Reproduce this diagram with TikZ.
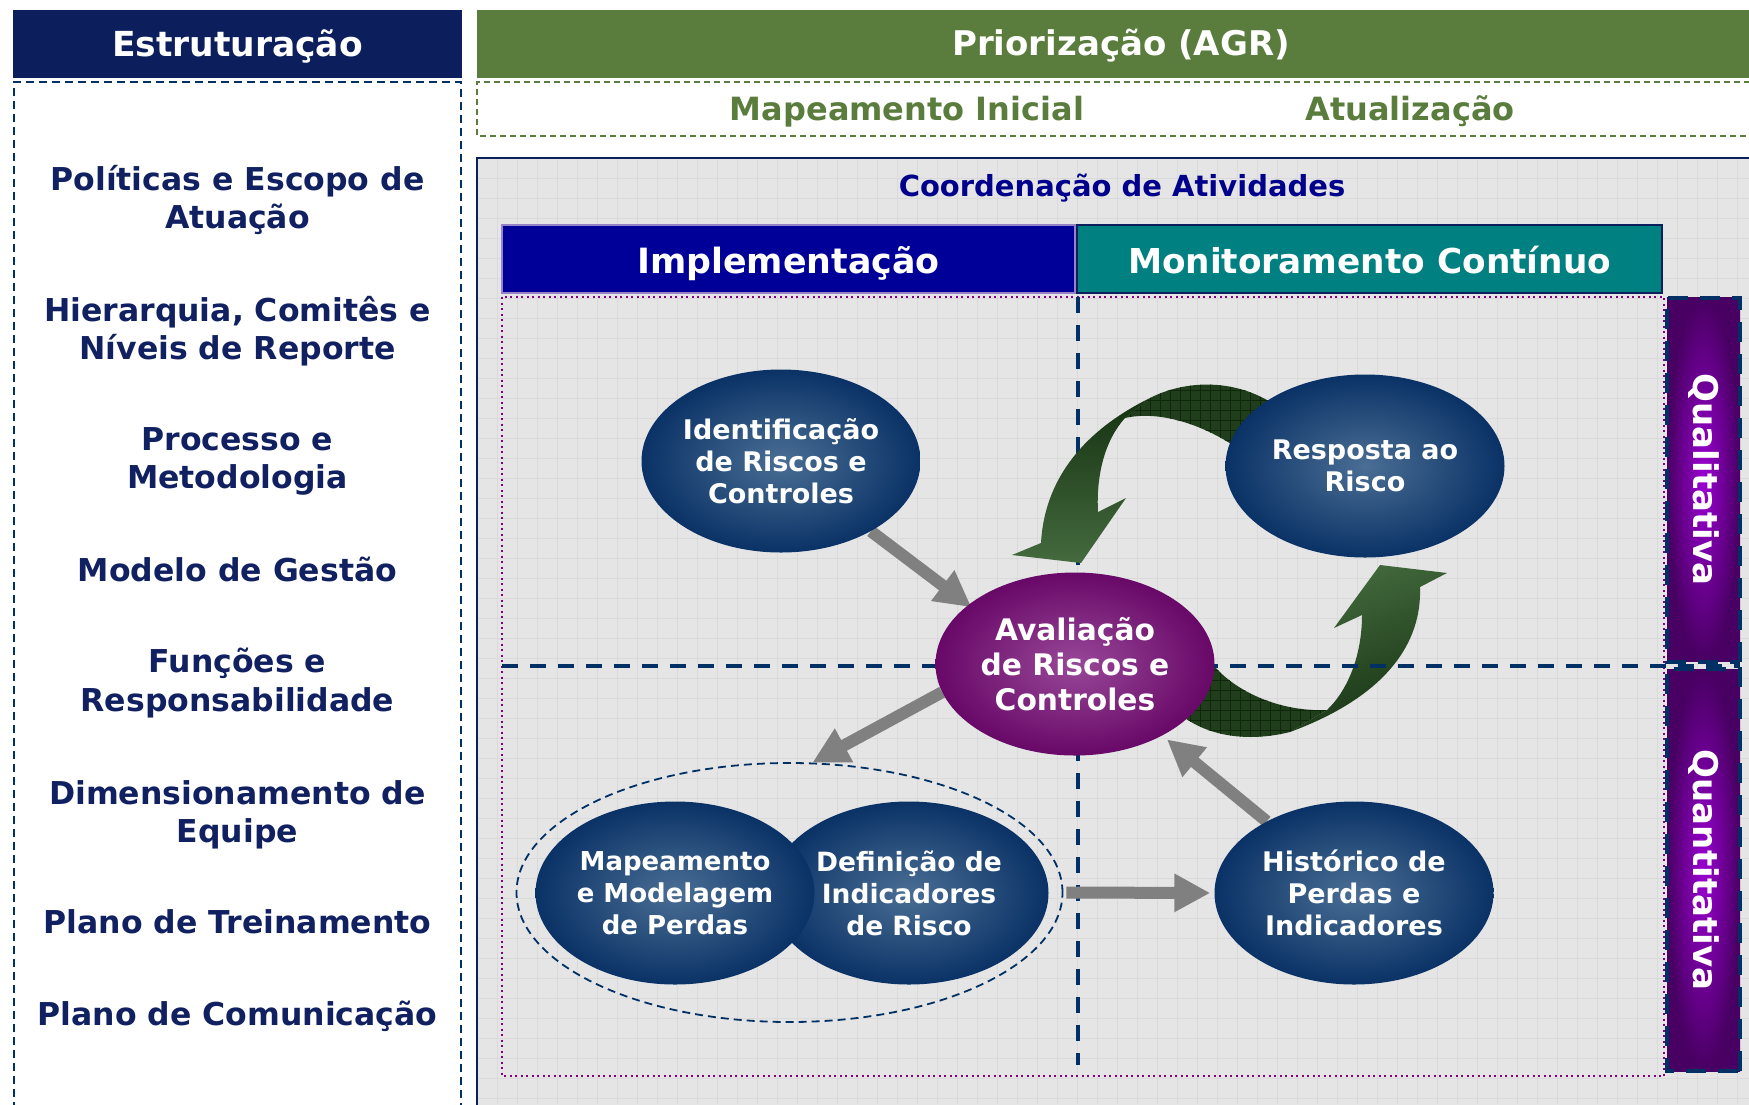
\documentclass[tikz,border=0pt]{standalone}
\usepackage{fontspec}
\setmainfont{DejaVu Sans}
\usetikzlibrary{shapes.geometric,arrows.meta}
\definecolor{navyhdr}{RGB}{12,30,92}
\definecolor{lefttext}{RGB}{16,32,96}
\definecolor{greenhdr}{RGB}{90,124,60}
\definecolor{coordtext}{RGB}{0,0,140}
\definecolor{implfill}{RGB}{0,0,153}
\definecolor{implborder}{RGB}{150,130,200}
\definecolor{monfill}{RGB}{0,128,128}
\definecolor{dashnavy}{RGB}{0,48,100}
\definecolor{dotpurple}{RGB}{128,0,128}
\definecolor{bgfill}{RGB}{229,229,229}
\definecolor{gridc}{RGB}{218,218,218}
\definecolor{ellin}{RGB}{74,110,148}
\definecolor{ellout}{RGB}{10,50,102}
\definecolor{purin}{RGB}{152,72,152}
\definecolor{purout}{RGB}{104,8,104}
\definecolor{barin}{RGB}{155,0,210}
\definecolor{barout}{RGB}{72,0,98}
\definecolor{arrgray}{RGB}{128,128,128}
\definecolor{gdark}{RGB}{22,50,18}
\definecolor{glight}{RGB}{68,106,62}
\definecolor{hatchbase}{RGB}{32,62,27}
\definecolor{hatchline}{RGB}{14,38,10}
\pgfdeclarelayer{back}
\pgfdeclarelayer{front}
\pgfsetlayers{back,main,front}
\begin{document}
\begin{tikzpicture}[x=1pt,y=-1pt,
  lefttxt/.style={anchor=base, text=lefttext, inner sep=0pt, font=\fontsize{31.5}{38}\selectfont\bfseries},
  hdrtxt/.style={anchor=base, text=white, inner sep=0pt, font=\fontsize{34}{40}\selectfont\bfseries},
  subtxt/.style={anchor=base, text=greenhdr, inner sep=0pt, font=\fontsize{32}{38}\selectfont\bfseries},
  bluenode/.style={ellipse, minimum width=279pt, minimum height=183pt, inner sep=0pt, shade, inner color=ellin, outer color=ellout, text=white, align=center, font=\fontsize{27}{32}\selectfont\bfseries},
  purplenode/.style={ellipse, minimum width=279pt, minimum height=183pt, inner sep=0pt, shade, inner color=purin, outer color=purout, text=white, align=center, font=\fontsize{29.7}{35}\selectfont\bfseries},
  barnode/.style={rectangle, minimum height=73pt, inner sep=0pt, shade, inner color=barin, outer color=barout, draw=dashnavy, line width=4pt, dash pattern=on 20pt off 12pt, text=white, font=\fontsize{34}{40}\selectfont\bfseries},
  navydash/.style={draw=dashnavy, line width=4pt, dash pattern=on 16pt off 12pt},
  grayarr/.style={draw=arrgray, line width=12pt, -{Triangle[width=36pt,length=36pt]}},
]
\useasboundingbox (0,0) rectangle (1749,1104);
\begin{pgfonlayer}{back}
\fill[white] (0,0) rectangle (1749,1104);
% left column
\fill[navyhdr] (13,10) rectangle (462,78);
\draw[dashnavy, line width=2pt, dash pattern=on 8pt off 5pt] (14,1110) -- (14,82) -- (461,82) -- (461,1110);
% green header
\fill[greenhdr] (477,10) rectangle (1760,78);
\draw[greenhdr, line width=2.5pt, dash pattern=on 6pt off 4pt] (1760,82) -- (477,82) -- (477,136) -- (1760,136);
% main grey area
\fill[bgfill] (477,158) rectangle (1760,1110);
\foreach \gx in {477,497,...,1749} \draw[gridc, line width=0.8pt] (\gx,158) -- (\gx,1104);
\foreach \gy in {158,178,...,1104} \draw[gridc, line width=0.8pt] (477,\gy) -- (1749,\gy);
\draw[navyhdr, line width=2pt] (477,1110) -- (477,158) -- (1760,158);
% column headers
\fill[implfill] (502,225) rectangle (1075,293);
\draw[implborder, line width=2pt] (502,225) rectangle (1075,293);
\fill[monfill] (1077,225) rectangle (1662,293);
\draw[navyhdr, line width=2.5pt] (1077,225) rectangle (1662,293);
% dotted frame
\draw[dotpurple, line width=2pt, dash pattern=on 2pt off 3.5pt] (502,297) rectangle (1664,1076);
% vertical dashed line
\draw[navydash] (1078,297) -- (1078,1065);
\end{pgfonlayer}

% header texts
\node[hdrtxt, font=\fontsize{34.5}{40}\selectfont\bfseries] (estr) at (237.5,56) {Estruturação};
\node[hdrtxt] (prio) at (1121,55) {Priorização (AGR)};
\node[subtxt] (mapin) at (907,120) {Mapeamento Inicial};
\node[subtxt] (atual) at (1410,120) {Atualização};
\node[anchor=base, text=coordtext, inner sep=0pt, font=\fontsize{29}{35}\selectfont\bfseries] (coord) at (1122,196) {Coordenação de Atividades};
\node[hdrtxt, font=\fontsize{34.8}{40}\selectfont\bfseries] (impl) at (788.5,273) {Implementação};
\node[hdrtxt, font=\fontsize{34.3}{40}\selectfont\bfseries] (moni) at (1369.5,273) {Monitoramento Contínuo};

% left column items
\node[lefttxt] (l1a) at (237.5,190) {Políticas e Escopo de};
\node[lefttxt] (l1b) at (237.5,228) {Atuação};
\node[lefttxt] (l2a) at (237.5,321) {Hierarquia, Comitês e};
\node[lefttxt] (l2b) at (237.5,359) {Níveis de Reporte};
\node[lefttxt] (l3a) at (237.5,450) {Processo e};
\node[lefttxt] (l3b) at (237.5,488) {Metodologia};
\node[lefttxt] (l4) at (237.5,581) {Modelo de Gestão};
\node[lefttxt] (l5a) at (237.5,672) {Funções e};
\node[lefttxt] (l5b) at (237.5,711) {Responsabilidade};
\node[lefttxt] (l6a) at (237.5,804) {Dimensionamento de};
\node[lefttxt] (l6b) at (237.5,842) {Equipe};
\node[lefttxt] (l7) at (237.5,933) {Plano de Treinamento};
\node[lefttxt] (l8) at (237.5,1025) {Plano de Comunicação};

% ellipses and bars (front)
\begin{pgfonlayer}{front}
\node[barnode, minimum width=364pt, rotate=-90] (qual) at (1703.5,479.5) {Qualitativa};
\node[barnode, minimum width=402pt, rotate=-90] (quant) at (1703.5,870) {Quantitativa};
\node[bluenode] (ident) at (781,461) {Identificação\\de Riscos e\\Controles};
\node[bluenode] (resp) at (1365,466) {Resposta ao\\Risco};
\node[purplenode] (aval) at (1075,664) {Avaliação\\de Riscos e\\Controles};
\node[bluenode, font=\fontsize{26.5}{32}\selectfont\bfseries] (defi) at (909,893) {Definição de\\Indicadores\\de Risco};
\node[bluenode, font=\fontsize{26}{32}\selectfont\bfseries] (mape) at (675,893) {Mapeamento\\e Modelagem\\de Perdas};
\node[bluenode] (hist) at (1354,893) {Histórico de\\Perdas e\\Indicadores};
\node[ellipse, draw=dashnavy, line width=1.8pt, dash pattern=on 8pt off 5pt, minimum width=546pt, minimum height=259pt, inner sep=0pt] (grp) at (789.5,892.5) {};
\end{pgfonlayer}

% green curved arrow 1 (Resposta -> Avaliacao)
\begin{scope}
\clip (1125,418) -- (1150,398) .. controls (1185,380) and (1235,378) .. (1275,405) -- (1240,450) .. controls (1205,425) and (1160,410) .. (1125,418) -- cycle;
\fill[hatchbase] (1100,370) rectangle (1290,460);
\foreach \h in {1100,1110,...,1290} \draw[hatchline, line width=0.8pt] (\h,370) -- (\h,460);
\foreach \v in {370,380,...,460} \draw[hatchline, line width=0.8pt] (1100,\v) -- (1290,\v);
\end{scope}
\shade[top color=gdark, bottom color=glight] (1150,398) .. controls (1095,425) and (1045,470) .. (1041,543) -- (1012,555) -- (1081,563) -- (1126,498) -- (1098,512) .. controls (1096,475) and (1105,440) .. (1125,418) -- cycle;

% green curved arrow 2 (Avaliacao -> Resposta)
\begin{scope}
\clip (1190,650) -- (1215,667) .. controls (1240,695) and (1285,712) .. (1327,710) -- (1290,732) .. controls (1250,742) and (1205,738) .. (1175,710) -- cycle;
\fill[hatchbase] (1160,640) rectangle (1340,750);
\foreach \h in {1160,1170,...,1340} \draw[hatchline, line width=0.8pt] (\h,640) -- (\h,750);
\foreach \v in {640,650,...,750} \draw[hatchline, line width=0.8pt] (1160,\v) -- (1340,\v);
\end{scope}
\shade[top color=glight, bottom color=gdark, shading angle=20] (1290,732) -- (1327,710) .. controls (1348,690) and (1362,655) .. (1362,615) -- (1334,628) -- (1380,565) -- (1447,573) -- (1420,587) .. controls (1422,640) and (1390,695) .. (1290,732) -- cycle;

% horizontal dashed line
\draw[navydash] (502,666) -- (1740,666);

% grey arrows
\draw[grayarr, shorten >=-4pt] (ident.-38) -- (aval.151);
\draw[grayarr] (aval.192) -- (grp.80);
\draw[grayarr, shorten <=3pt, shorten >=4pt] (grp.east) -- (hist.west);
\draw[grayarr, shorten >=6pt] (hist) -- (aval);
\end{tikzpicture}
\end{document}
